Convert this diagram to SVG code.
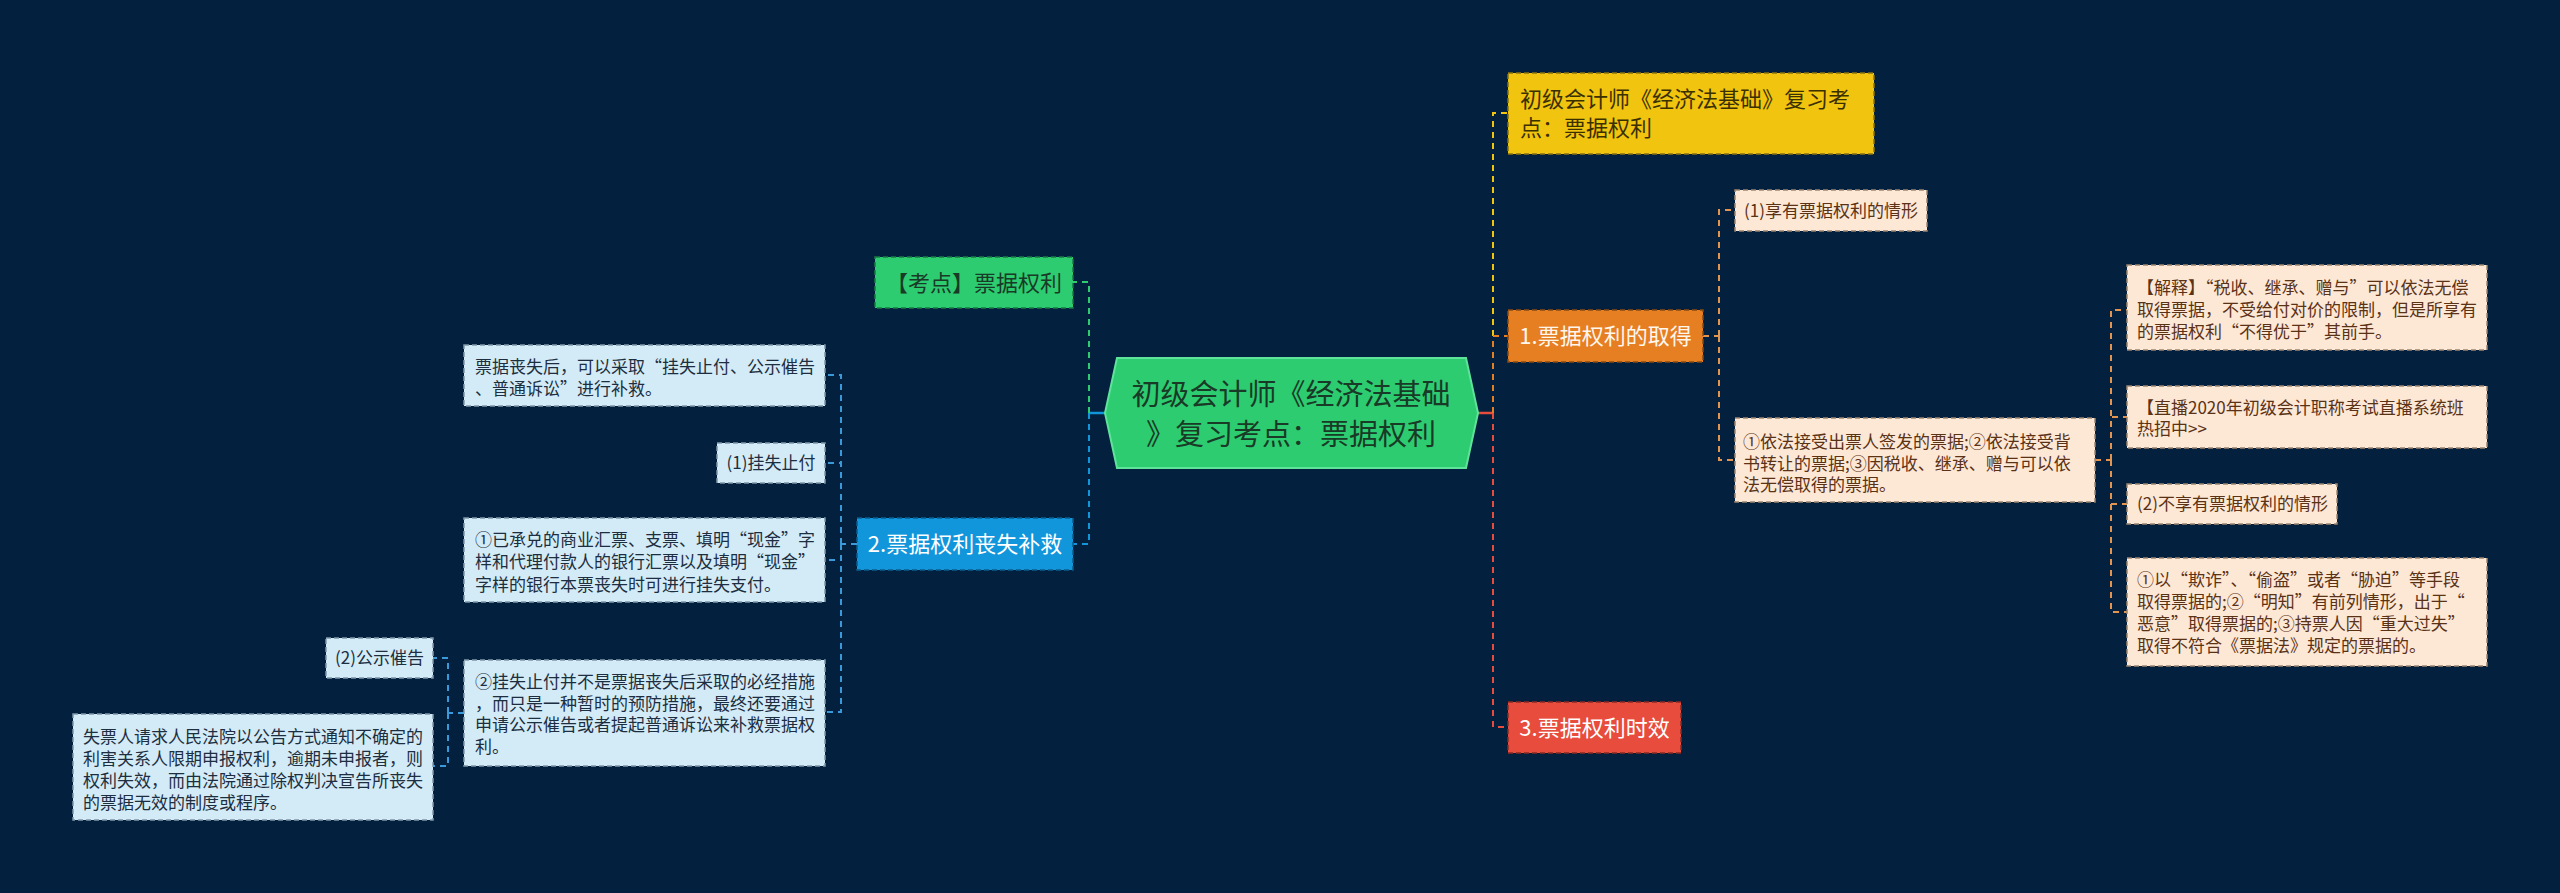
<svg xmlns="http://www.w3.org/2000/svg" width="2560" height="893" viewBox="0 0 2560 893">
<style>
text{font-family:"Noto Sans CJK SC","Noto Sans",sans-serif;}
.c{fill:none;stroke-width:2;stroke-dasharray:6,5;}
.s{fill:none;stroke-width:2.5;}
.nb{stroke-width:1.5;stroke-dasharray:5,3;}
.l1{font-size:22px;}
.sm{font-size:17px;}
.peach{fill:#fde8d6;stroke:#9c8470;}
.pt{fill:#5a3216;}
.lb{fill:#d3ebf7;stroke:#7f97a8;}
.lt{fill:#1c2e40;}
.mid{text-anchor:middle;}
</style>
<rect width="2560" height="893" fill="#03203f"/>
<g id="connectors">
<path class="s" d="M1478,413H1493" stroke="#e74c3c"/>
<path class="c" d="M1493,413V113H1508" stroke="#f1c40f"/>
<path class="c" d="M1493,413V727H1508" stroke="#e74c3c"/>
<path class="c" d="M1493,413V336H1508" stroke="#e67e22"/>
<path class="c" d="M1703,336H1719M1719,336V210H1735M1719,336V460H1735" stroke="#e3954f"/>
<path class="c" d="M2095,460H2111M2111,460V310H2127M2111,460V417H2127M2111,460V504H2127M2111,460V612H2127" stroke="#e3954f"/>
<path class="s" d="M1105,413H1089" stroke="#1296db"/>
<path class="c" d="M1089,413V282H1073" stroke="#2ecc71"/>
<path class="c" d="M1089,413V544H1073" stroke="#1296db"/>
<path class="c" d="M857,544H841M841,544V375H825M841,544V463H825M841,544V560H825M841,544V712H825" stroke="#3a9ad9"/>
<path class="c" d="M464,713H448M448,713V658H433M448,713V766H433" stroke="#3a9ad9"/>
</g>
<g id="center">
<polygon points="1105,413 1117,358 1466,358 1478,413 1466,468 1117,468" fill="#2ecc71" stroke="#5fe39a" stroke-width="2"/>
<text x="1291" y="405" font-size="29" fill="#183a26" text-anchor="middle">初级会计师《经济法基础</text>
<text x="1291" y="445" font-size="29" fill="#183a26" text-anchor="middle">》复习考点：票据权利</text>
</g>
<g id="n-yellow">
<rect class="nb" x="1508" y="73" width="366" height="81" fill="#f1c40f" stroke="#8a7210"/>
<text class="l1" x="1520" y="107" fill="#3b3000">初级会计师《经济法基础》复习考</text>
<text class="l1" x="1520" y="136" fill="#3b3000">点：票据权利</text>
</g>
<g id="n-1">
<rect class="nb" x="1508" y="310" width="195" height="52" fill="#e67e22" stroke="#8c4a10"/>
<text class="l1 mid" x="1605.5" y="344" fill="#fff6ec">1.票据权利的取得</text>
</g>
<g id="n-1-1">
<rect class="nb peach" x="1735" y="190" width="192" height="41"/>
<text class="sm pt mid" x="1831" y="217">(1)享有票据权利的情形</text>
</g>
<g id="n-1-2">
<rect class="nb peach" x="1735" y="418" width="360" height="84"/>
<text class="sm pt" x="1743" y="448">①依法接受出票人签发的票据;②依法接受背</text>
<text class="sm pt" x="1743" y="470">书转让的票据;③因税收、继承、赠与可以依</text>
<text class="sm pt" x="1743" y="491">法无偿取得的票据。</text>
</g>
<g id="n-1-2-1">
<rect class="nb peach" x="2127" y="265" width="360" height="85"/>
<text class="sm pt" x="2137" y="294">【解释】“税收、继承、赠与”可以依法无偿</text>
<text class="sm pt" x="2137" y="316">取得票据，不受给付对价的限制，但是所享有</text>
<text class="sm pt" x="2137" y="338">的票据权利“不得优于”其前手。</text>
</g>
<g id="n-1-2-2">
<rect class="nb peach" x="2127" y="386" width="360" height="62"/>
<text class="sm pt" x="2137" y="414">【直播2020年初级会计职称考试直播系统班</text>
<text class="sm pt" x="2137" y="435">热招中&gt;&gt;</text>
</g>
<g id="n-1-2-3">
<rect class="nb peach" x="2127" y="484" width="210" height="40"/>
<text class="sm pt" x="2137" y="510">(2)不享有票据权利的情形</text>
</g>
<g id="n-1-2-4">
<rect class="nb peach" x="2127" y="558" width="360" height="108"/>
<text class="sm pt" x="2137" y="586">①以“欺诈”、“偷盗”或者“胁迫”等手段</text>
<text class="sm pt" x="2137" y="608">取得票据的;②“明知”有前列情形，出于“</text>
<text class="sm pt" x="2137" y="630">恶意”取得票据的;③持票人因“重大过失”</text>
<text class="sm pt" x="2137" y="652">取得不符合《票据法》规定的票据的。</text>
</g>
<g id="n-3">
<rect class="nb" x="1508" y="702" width="173" height="51" fill="#e74c3c" stroke="#8c2a20"/>
<text class="l1 mid" x="1594.5" y="736" fill="#fff">3.票据权利时效</text>
</g>
<g id="n-kd">
<rect class="nb" x="875" y="257" width="198" height="51" fill="#2ecc71" stroke="#1a7a44"/>
<text class="l1 mid" x="974" y="291" fill="#183a26">【考点】票据权利</text>
</g>
<g id="n-2">
<rect class="nb" x="857" y="518" width="216" height="52" fill="#1296db" stroke="#0a5e8e"/>
<text class="l1 mid" x="965" y="552" fill="#fff">2.票据权利丧失补救</text>
</g>
<g id="n-2-1">
<rect class="nb lb" x="464" y="345" width="361" height="61"/>
<text class="sm lt" x="475" y="373">票据丧失后，可以采取“挂失止付、公示催告</text>
<text class="sm lt" x="475" y="395">、普通诉讼”进行补救。</text>
</g>
<g id="n-2-2">
<rect class="nb lb" x="717" y="443" width="108" height="40"/>
<text class="sm lt mid" x="771" y="469">(1)挂失止付</text>
</g>
<g id="n-2-3">
<rect class="nb lb" x="464" y="518" width="361" height="84"/>
<text class="sm lt" x="475" y="546">①已承兑的商业汇票、支票、填明“现金”字</text>
<text class="sm lt" x="475" y="568">样和代理付款人的银行汇票以及填明“现金”</text>
<text class="sm lt" x="475" y="591">字样的银行本票丧失时可进行挂失支付。</text>
</g>
<g id="n-2-4">
<rect class="nb lb" x="464" y="660" width="361" height="106"/>
<text class="sm lt" x="475" y="688">②挂失止付并不是票据丧失后采取的必经措施</text>
<text class="sm lt" x="475" y="710">，而只是一种暂时的预防措施，最终还要通过</text>
<text class="sm lt" x="475" y="731">申请公示催告或者提起普通诉讼来补救票据权</text>
<text class="sm lt" x="475" y="753">利。</text>
</g>
<g id="n-2-4-1">
<rect class="nb lb" x="326" y="638" width="107" height="40"/>
<text class="sm lt mid" x="379.5" y="664">(2)公示催告</text>
</g>
<g id="n-2-4-2">
<rect class="nb lb" x="73" y="714" width="360" height="106"/>
<text class="sm lt" x="83" y="743">失票人请求人民法院以公告方式通知不确定的</text>
<text class="sm lt" x="83" y="765">利害关系人限期申报权利，逾期未申报者，则</text>
<text class="sm lt" x="83" y="787">权利失效，而由法院通过除权判决宣告所丧失</text>
<text class="sm lt" x="83" y="809">的票据无效的制度或程序。</text>
</g>
</svg>
